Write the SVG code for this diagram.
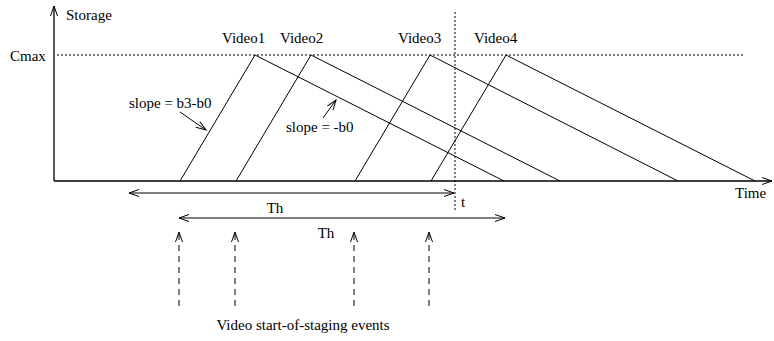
<svg xmlns="http://www.w3.org/2000/svg" width="774" height="341" viewBox="0 0 774 341">
<style>
text{font-family:"Liberation Serif","Times New Roman",serif;font-size:15px;fill:#000}
.l{stroke:#000;stroke-width:1;fill:none}
.ax{stroke:#000;stroke-width:1.3;fill:none}
.dot{stroke:#000;stroke-width:1;stroke-dasharray:2,2;fill:none}
.dash{stroke:#000;stroke-width:1;stroke-dasharray:6,5;fill:none}
.ar{stroke:#000;stroke-width:1;fill:none}
</style>
<defs>
<marker id="ah" markerWidth="12" markerHeight="10" refX="11" refY="5" orient="auto" markerUnits="userSpaceOnUse">
<polyline points="1,1.5 11,5 1,8.5" fill="none" stroke="#000" stroke-width="1"/>
</marker>
<marker id="as" markerWidth="12" markerHeight="10" refX="1" refY="5" orient="auto" markerUnits="userSpaceOnUse">
<polyline points="11,1.5 1,5 11,8.5" fill="none" stroke="#000" stroke-width="1"/>
</marker>
</defs>
<g id="axes">
<line class="ax" x1="54" y1="181" x2="54" y2="6" marker-end="url(#ah)"/>
<line class="ax" x1="54" y1="181" x2="772" y2="181" marker-end="url(#ah)"/>
<text x="66" y="20">Storage</text>
<text x="10" y="61">Cmax</text>
<text x="735" y="198">Time</text>
<line class="dot" x1="57" y1="55" x2="743" y2="55"/>
<line class="dot" x1="455" y1="12" x2="455" y2="212"/>
<text x="461" y="207">t</text>
</g>
<g id="video1">
<polyline class="l" points="180,181 255,55 504,181"/>
<text x="222" y="43">Video1</text>
</g>
<g id="video2">
<polyline class="l" points="236,181 311,55 560,181"/>
<text x="280" y="43">Video2</text>
</g>
<g id="video3">
<polyline class="l" points="355,181 430,55 678,181"/>
<text x="398" y="43">Video3</text>
</g>
<g id="video4">
<polyline class="l" points="431,181 506,55 755,181"/>
<text x="474" y="43">Video4</text>
</g>
<g id="connectors">
<line class="ar" x1="180" y1="112" x2="206" y2="130" marker-end="url(#ah)"/>
<line class="ar" x1="323" y1="118" x2="336" y2="100" marker-end="url(#ah)"/>
<line class="ar" x1="129" y1="193" x2="454" y2="193" marker-start="url(#as)" marker-end="url(#ah)"/>
<line class="ar" x1="179" y1="218" x2="505" y2="218" marker-start="url(#as)" marker-end="url(#ah)"/>
<line class="dash" x1="179" y1="306" x2="179" y2="232" marker-end="url(#ah)"/>
<line class="dash" x1="235" y1="306" x2="235" y2="232" marker-end="url(#ah)"/>
<line class="dash" x1="354" y1="306" x2="354" y2="232" marker-end="url(#ah)"/>
<line class="dash" x1="429" y1="306" x2="429" y2="232" marker-end="url(#ah)"/>
</g>
<g id="labels">
<text x="129" y="108">slope = b3-b0</text>
<text x="286" y="132">slope = -b0</text>
<text x="275" y="213" text-anchor="middle">Th</text>
<text x="326" y="238" text-anchor="middle">Th</text>
<text x="303" y="330" text-anchor="middle">Video start-of-staging events</text>
</g>
</svg>
